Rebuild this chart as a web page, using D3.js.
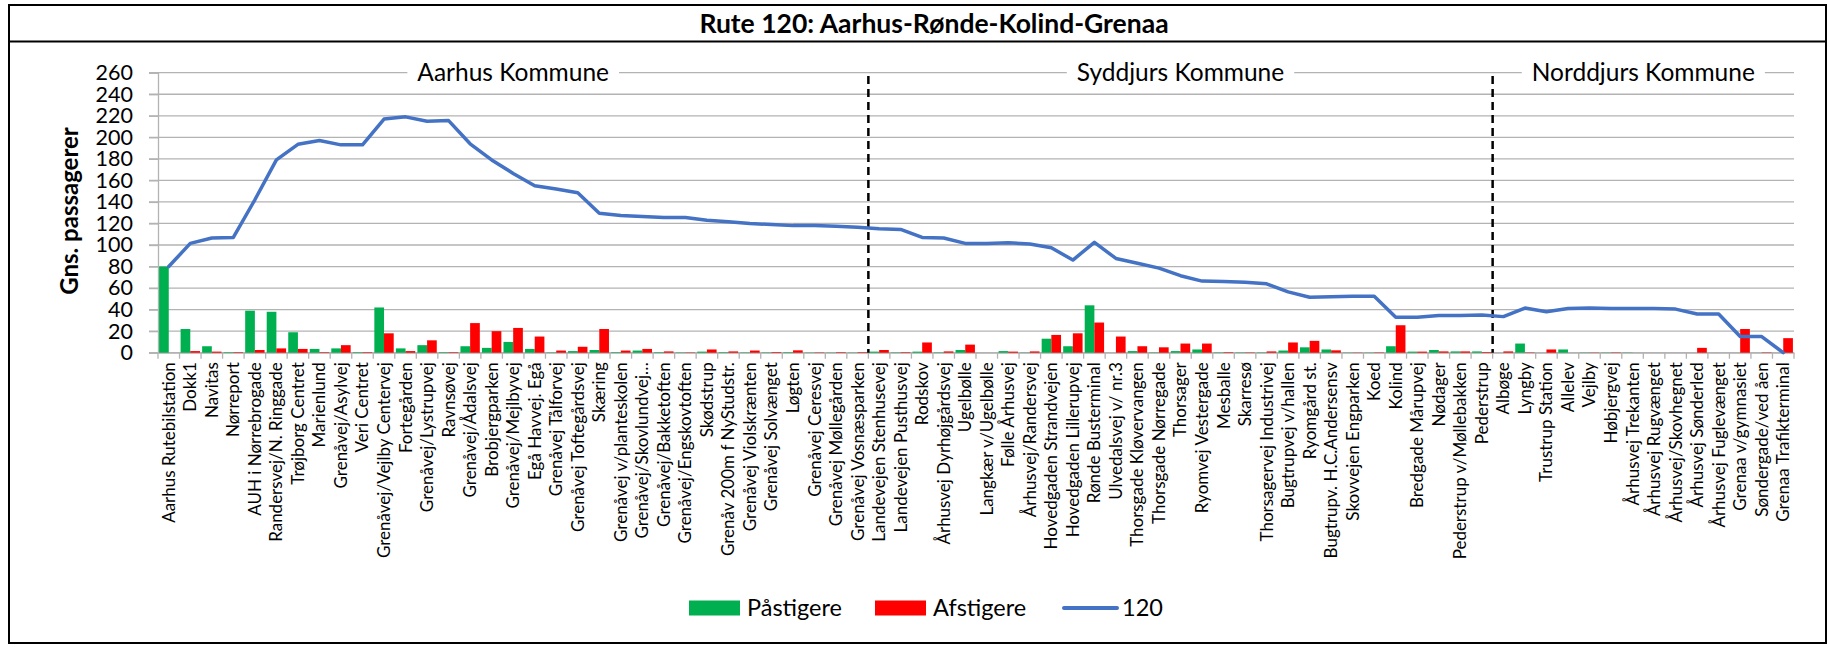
<!DOCTYPE html>
<html><head><meta charset="utf-8">
<script src="https://cdn.jsdelivr.net/npm/d3@7/dist/d3.min.js"></script>
<style>
body{margin:0;background:#fff;}
svg{display:block;font-family:Lato,"Open Sans",sans-serif;}
</style>
</head><body>
<svg id="chart" width="1830" height="647"></svg>
<script>
const categories = [
"Aarhus Rutebilstation","Dokk1","Navitas","Nørreport","AUH i Nørrebrogade","Randersvej/N. Ringgade",
"Trøjborg Centret","Marienlund","Grenåvej/Asylvej","Veri Centret","Grenåvej/Vejlby Centervej","Fortegården",
"Grenåvej/Lystrupvej","Ravnsøvej","Grenåvej/Ådalsvej","Brobjergparken","Grenåvej/Mejlbyvej","Egå Havvej. Egå",
"Grenåvej Tålforvej","Grenåvej Toftegårdsvej","Skæring","Grenåvej v/planteskolen","Grenåvej/Skovlundvej…",
"Grenåvej/Bakketoften","Grenåvej/Engskovtoften","Skødstrup","Grenåv 200m f NyStudstr.","Grenåvej Violskrænten",
"Grenåvej Solvænget","Løgten","Grenåvej Ceresvej","Grenåvej Møllegården","Grenåvej Vosnæsparken",
"Landevejen Stenhusevej","Landevejen Pusthusvej","Rodskov","Århusvej Dyrhøjgårdsvej","Ugelbølle",
"Langkær v/Ugelbølle","Følle Århusvej","Århusvej/Randersvej","Hovedgaden Strandvejen","Hovedgaden Lillerupvej",
"Rønde Busterminal","Ulvedalsvej v/ nr.3","Thorsgade Kløvervangen","Thorsgade Nørregade","Thorsager",
"Ryomvej Vestergade","Mesballe","Skarresø","Thorsagervej Industrivej","Bugtrupvej v/hallen","Ryomgård st.",
"Bugtrupv. H.C.Andersensv","Skovvejen Engparken","Koed","Kolind","Bredgade Mårupvej","Nødager",
"Pederstrup v/Møllebakken","Pederstrup","Albøge","Lyngby","Trustrup Station","Allelev","Vejlby","Høbjergvej",
"Århusvej Trekanten","Århusvej Rugvænget","Århusvej/Skovhegnet","Århusvej Sønderled","Århusvej Fuglevænget",
"Grenaa v/gymnasiet","Søndergade/ved åen","Grenaa Trafikterminal"];

const paastigere = [80,22,6,0.5,39,38,19,3.5,4,0.5,42,4,7,0.5,6,4.5,10,3.5,0.3,1.5,2.5,0.5,2,0.5,0.3,1,
0.5,0.3,0.3,0.5,0.2,0.2,0.2,1,0.3,1,0.3,2.5,0,1.5,0.2,13,6,44,0,1.5,0.3,1.5,3,0.3,0.3,0.3,2,5,3,0.2,0.2,6,
1,2.5,1.2,1.2,0,8.5,0,3,0.2,0.2,0.2,0,0,0,0,0,0,0];

const afstigere = [0,1.5,1,0.5,2.5,4,3.5,0.5,7,0.5,18,1.5,11.5,0.5,27.5,20,23,15,2,5.5,22,2,3.5,1.2,0.3,3,
1.2,2,0.6,2.2,0.3,0.5,0.5,2.5,0.5,9.5,1.2,7.5,0,1,1.2,16.5,18,28,15,6,5,8.5,8.5,0.5,0.3,1.2,9.5,11,2.2,0.2,
0.3,25.5,1,1.2,1.2,0.6,1.2,0.3,3,0,0.2,0.3,0,0,0,4.5,0,22,0.3,13.5];

const load120 = [80,101.5,106.5,107,142,179,193.5,197,193,193,217,219,215,215.5,194,179,166.5,155,152,148.5,
129.5,127.5,126.5,125.5,125.5,123,121.5,120,119,118,118,117.5,116.5,115,114.5,107,106.5,101.5,101.5,102,101,
97.5,86,102.5,87.5,83,78.5,71.5,66.5,66,65.5,64,56.5,51.5,52,52.5,52.5,33,33,34.5,34.5,35,33.5,41.5,38,41,
41.5,41,41,41,40.5,36,36,15,15,0];

const yTicks = [0,20,40,60,80,100,120,140,160,180,200,220,240,260];
const regionNames = ["Aarhus Kommune","Syddjurs Kommune","Norddjurs Kommune"];
const regionStarts = [0,33,62];
const seriesNames = ["Påstigere","Afstigere","120"];
const titleText = "Rute 120: Aarhus-Rønde-Kolind-Grenaa";
const yTitle = "Gns. passagerer";

const svg = d3.select("#chart");
const L = 158, R = 1794, T = 72.7, B = 352.7;
const GREEN = "#00B050", RED = "#FF0000", BLUE = "#4472C4", GRID = "#b3b3b3";

// frame & title
svg.append("rect").attr("x",9).attr("y",5).attr("width",1817).attr("height",638)
  .attr("fill","none").attr("stroke","#000").attr("stroke-width",2);
svg.append("line").attr("x1",9).attr("x2",1826).attr("y1",41.5).attr("y2",41.5)
  .attr("stroke","#000").attr("stroke-width",2);
svg.append("text").attr("x",934).attr("y",23.5).attr("dy","0.35em").attr("text-anchor","middle")
  .attr("font-weight","bold").attr("font-size",26.5).text(titleText);

const x = d3.scaleBand().domain(categories).range([L,R]).paddingInner(0).paddingOuter(0);
const bw = x.bandwidth();
const xs = d3.scaleBand().domain(["p","a"]).range([bw*0.05, bw*0.95]).padding(0);
const y = d3.scaleLinear().domain([0,260]).range([B,T]);

// gridlines
svg.append("g").selectAll("line").data(yTicks).join("line")
  .attr("x1",L-9).attr("x2",R).attr("y1",d=>y(d)).attr("y2",d=>y(d))
  .attr("stroke",GRID).attr("stroke-width",1.3);

// y axis
const yAxis = svg.append("g").attr("transform",`translate(${L},0)`)
  .call(d3.axisLeft(y).tickValues(yTicks).tickSize(9).tickPadding(16));
yAxis.select(".domain").attr("stroke",GRID).attr("stroke-width",1.3);
yAxis.selectAll(".tick line").attr("stroke",GRID).attr("stroke-width",1.3);
yAxis.selectAll("text").attr("font-size",21.5).attr("fill","#000").attr("font-family","Lato");

// y title
svg.append("text").attr("transform","translate(70,211) rotate(-90)").attr("text-anchor","middle")
  .attr("dy","0.35em").attr("font-weight","bold").attr("font-size",24).text(yTitle);

// x axis
const xAxis = svg.append("g").attr("transform",`translate(0,${B})`)
  .call(d3.axisBottom(x).tickSize(0));
xAxis.select(".domain").attr("stroke",GRID).attr("stroke-width",1.3);
xAxis.selectAll("text").attr("font-size",17).attr("fill","#000").attr("font-family","Lato")
  .attr("transform","rotate(-90)").attr("text-anchor","end").attr("x",-9.5).attr("y",0).attr("dy","0.35em");
svg.append("g").selectAll("line").data(d3.range(categories.length+1)).join("line")
  .attr("x1",i=>L+i*x.step()).attr("x2",i=>L+i*x.step()).attr("y1",B).attr("y2",B+6)
  .attr("stroke",GRID).attr("stroke-width",1.3);

// bars
const gb = svg.append("g");
gb.selectAll("rect.p").data(categories).join("rect").attr("class","p")
  .attr("x",(d)=>x(d)+xs("p")).attr("width",xs.bandwidth())
  .attr("y",(d,i)=>y(paastigere[i])).attr("height",(d,i)=>B-y(paastigere[i])).attr("fill",GREEN);
gb.selectAll("rect.a").data(categories).join("rect").attr("class","a")
  .attr("x",(d)=>x(d)+xs("a")).attr("width",xs.bandwidth())
  .attr("y",(d,i)=>y(afstigere[i])).attr("height",(d,i)=>B-y(afstigere[i])).attr("fill",RED);

// region labels on top gridline
regionNames.forEach((name,k)=>{
  const x0 = L + regionStarts[k]*x.step();
  const x1 = k<regionNames.length-1 ? L + regionStarts[k+1]*x.step() : R;
  const cx = (x0+x1)/2;
  const g = svg.append("g");
  const t = g.append("text").attr("x",cx).attr("y",y(260)).attr("dy","0.35em").attr("text-anchor","middle")
    .attr("font-size",24.5).text(name);
  const bb = t.node().getBBox();
  g.insert("rect","text").attr("x",bb.x-10).attr("y",y(260)-3).attr("width",bb.width+20).attr("height",6).attr("fill","#fff");
});

// dividers
svg.append("g").selectAll("line").data(regionStarts.slice(1)).join("line")
  .attr("x1",d=>L+d*x.step()).attr("x2",d=>L+d*x.step()).attr("y1",76).attr("y2",B)
  .attr("stroke","#000").attr("stroke-width",2.5).attr("stroke-dasharray","8,5");

// line
const line = d3.line().x((d,i)=>x(categories[i])+bw/2).y(d=>y(d));
svg.append("path").datum(load120).attr("d",line).attr("fill","none").attr("stroke",BLUE)
  .attr("stroke-width",3.5).attr("stroke-linejoin","round").attr("stroke-linecap","round");

// legend
const lg = svg.append("g");
const ly = 608;
lg.append("rect").attr("x",689).attr("y",ly-7.5).attr("width",51).attr("height",15).attr("fill",GREEN);
lg.append("text").attr("x",747).attr("y",ly).attr("dy","0.35em").attr("font-size",23.5).text(seriesNames[0]);
lg.append("rect").attr("x",875).attr("y",ly-7.5).attr("width",51).attr("height",15).attr("fill",RED);
lg.append("text").attr("x",933).attr("y",ly).attr("dy","0.35em").attr("font-size",23.5).text(seriesNames[1]);
lg.append("line").attr("x1",1064).attr("x2",1117).attr("y1",ly).attr("y2",ly).attr("stroke",BLUE)
  .attr("stroke-width",4).attr("stroke-linecap","round");
lg.append("text").attr("x",1122).attr("y",ly).attr("dy","0.35em").attr("font-size",23.5).text(seriesNames[2]);
</script>
</body></html>
